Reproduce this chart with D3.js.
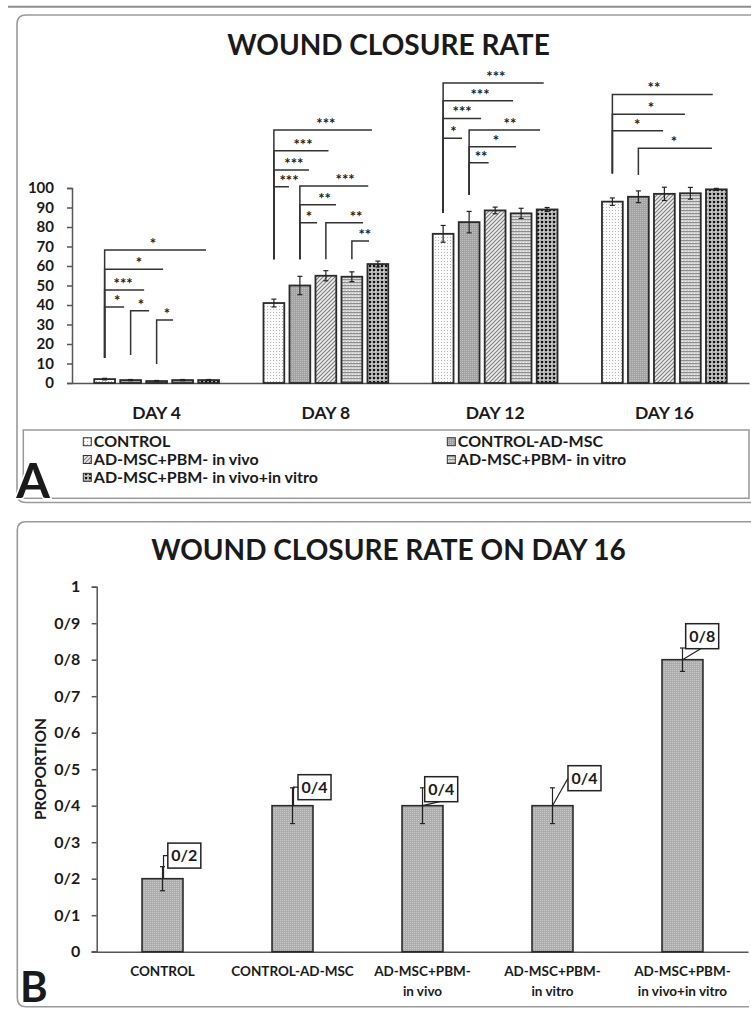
<!DOCTYPE html>
<html><head><meta charset="utf-8">
<script src="https://cdn.jsdelivr.net/npm/d3@7"></script>
<style>
body{margin:0;background:#fff}
svg{display:block}
text{font-family:Lato,"Open Sans",sans-serif;font-weight:700;fill:#1a1a1a}
</style>
</head><body>
<svg id="c" width="751" height="1011"></svg>
<script>
// ---------- Panel A data ----------
const days = ["DAY 4", "DAY 8", "DAY 12", "DAY 16"];
const groups = ["CONTROL", "CONTROL-AD-MSC", "AD-MSC+PBM- in vivo", "AD-MSC+PBM- in vitro", "AD-MSC+PBM- in vivo+in vitro"];
const meanControl = [2, 41, 76.5, 93];
const meanAdmsc   = [1.5, 50, 82.5, 95.5];
const meanVivo    = [1, 55, 88.5, 97];
const meanVitro   = [1.5, 54.5, 87, 97.3];
const meanBoth    = [1.5, 61, 89, 99.3];
const errControl = [0.4, 2, 4.3, 1.9];
const errAdmsc   = [0.3, 4.7, 5.5, 3];
const errVivo    = [0.3, 2.6, 1.7, 3.4];
const errVitro   = [0.3, 2.5, 2.6, 3];
const errBoth    = [0.3, 1.5, 1, 0.5];
const yTicksA = [0, 10, 20, 30, 40, 50, 60, 70, 80, 90, 100];
// significance brackets: [day, fromBar, stemBottom, level, endBar, labelBar, stars]
const brackets = [
  [0, 0, 12.8, 68.2, 3.9, 1.86, "*"],
  [0, 0, 12.8, 58.3, 2.25, 1.32, "*"],
  [0, 0, 12.8, 47.7, 1.52, 0.71, "***"],
  [0, 0, 12.8, 39, 0.75, 0.48, "*"],
  [0, 1, 14.4, 37.1, 1.71, 1.4, "*"],
  [0, 2, 9.7, 32.3, 2.63, 2.4, "*"],
  [1, 0, 63.4, 129.7, 3.77, 2.0, "***"],
  [1, 0, 63.4, 119.1, 2.1, 1.12, "***"],
  [1, 0, 63.4, 109.2, 1.35, 0.77, "***"],
  [1, 0, 63.4, 100.7, 0.58, 0.58, "***"],
  [1, 1, 63.4, 101, 3.63, 2.74, "***"],
  [1, 1, 63.4, 91.4, 2.39, 1.95, "**"],
  [1, 1, 63.4, 82.2, 1.66, 1.35, "*"],
  [1, 2, 63.4, 82.2, 3.43, 3.16, "**"],
  [1, 3, 63.4, 72.8, 3.66, 3.5, "**"],
  [2, 0, 87.2, 153.8, 3.87, 2.03, "***"],
  [2, 0, 87.2, 144.8, 2.69, 1.42, "***"],
  [2, 0, 87.2, 135.7, 1.46, 0.73, "***"],
  [2, 0, 87.2, 125.5, 0.73, 0.4, "*"],
  [2, 1, 96.4, 129.7, 3.73, 2.57, "**"],
  [2, 1, 96.4, 121.2, 2.8, 2.03, "*"],
  [2, 1, 96.4, 113, 1.75, 1.46, "**"],
  [3, 0, 107.5, 148, 3.86, 1.6, "**"],
  [3, 0, 107.5, 137.8, 2.79, 1.48, "*"],
  [3, 0, 107.5, 129.3, 1.95, 0.95, "*"],
  [3, 1, 106.7, 120.4, 3.83, 2.37, "*"]
];

// ---------- Panel B data ----------
const bCategories = [["CONTROL"], ["CONTROL-AD-MSC"], ["AD-MSC+PBM-", "in vivo"], ["AD-MSC+PBM-", "in vitro"], ["AD-MSC+PBM-", "in vivo+in vitro"]];
const bValues = [0.2, 0.4, 0.4, 0.4, 0.8];
const bErrors = [0.033, 0.049, 0.049, 0.049, 0.032];
const bLabels = ["0/2", "0/4", "0/4", "0/4", "0/8"];
const bTickValues = [0, 0.1, 0.2, 0.3, 0.4, 0.5, 0.6, 0.7, 0.8, 0.9, 1];
const bTickLabels = ["0", "0/1", "0/2", "0/3", "0/4", "0/5", "0/6", "0/7", "0/8", "0/9", "1"];

// ---------- drawing ----------
const svg = d3.select("#c");
const defs = svg.append("defs");
function pat(id, w, h, build) {
  const p = defs.append("pattern").attr("id", id).attr("patternUnits", "userSpaceOnUse").attr("width", w).attr("height", h);
  build(p);
}
pat("pControl", 3, 3, p => {
  p.append("rect").attr("width", 3).attr("height", 3).attr("fill", "#fafafa");
  p.append("rect").attr("width", 1).attr("height", 1).attr("fill", "#b4b4b4");
});
pat("pAdmsc", 2, 2, p => {
  p.append("rect").attr("width", 2).attr("height", 2).attr("fill", "#a2a2a2");
  p.append("rect").attr("width", 1).attr("height", 1).attr("fill", "#c2c2c2");
});
pat("pVivo", 4, 4, p => {
  p.append("rect").attr("width", 4).attr("height", 4).attr("fill", "#eeeeee");
  p.append("path").attr("d", "M-1,1 L1,-1 M0,4 L4,0 M3,5 L5,3").attr("stroke", "#808080").attr("stroke-width", 1.2);
});
pat("pVitro", 3, 3, p => {
  p.append("rect").attr("width", 3).attr("height", 3).attr("fill", "#cfcfcf");
  p.append("rect").attr("width", 3).attr("height", 1).attr("fill", "#8e8e8e");
  p.append("rect").attr("x", 1).attr("y", 2).attr("width", 1).attr("height", 1).attr("fill", "#f0f0f0");
});
pat("pBoth", 4, 4, p => {
  p.append("rect").attr("width", 4).attr("height", 4).attr("fill", "#ffffff");
  p.append("path").attr("d", "M0,0.3 H4 M0.3,0 V4").attr("stroke", "#8a8a8a").attr("stroke-width", 0.6);
  p.append("rect").attr("x", 0.9).attr("y", 0.9).attr("width", 2.5).attr("height", 2.5).attr("fill", "#111");
});
pat("pB", 2, 2, p => {
  p.append("rect").attr("width", 2).attr("height", 2).attr("fill", "#acacac");
  p.append("rect").attr("width", 1).attr("height", 1).attr("fill", "#cbcbcb");
});
const fills = ["url(#pControl)", "url(#pAdmsc)", "url(#pVivo)", "url(#pVitro)", "url(#pBoth)"];

// top rule
svg.append("line").attr("x1", 8).attr("x2", 751).attr("y1", 6.7).attr("y2", 6.7).attr("stroke", "#8c8c8c").attr("stroke-width", 2);

// frames
svg.append("path").attr("d", "M760,15 H26 Q17,15 17,24 V494 Q17,502.5 26,502.5 H760")
  .attr("fill", "none").attr("stroke", "#9a9a9a").attr("stroke-width", 1.6);
svg.append("path").attr("d", "M760,521.7 H26 Q17.3,521.7 17.3,530 V998 Q17.3,1006.7 26,1006.7 H749")
  .attr("fill", "none").attr("stroke", "#9a9a9a").attr("stroke-width", 1.6);

// ===== Panel A =====
const gA = svg.append("g");
gA.append("text").attr("x", 388.5).attr("y", 55).attr("text-anchor", "middle").attr("font-size", 28).text("WOUND CLOSURE RATE");

const x0 = d3.scaleBand().domain(days).range([72, 749]).paddingInner(0.232).paddingOuter(0.116);
const x1 = d3.scaleBand().domain(d3.range(groups.length)).range([0, x0.bandwidth()]).paddingInner(0.2).paddingOuter(0.1);
const yA = d3.scaleLinear().domain([0, 100]).range([383, 188]);
const barCenter = (d, f) => x0(days[d]) + x1(0) + x1.bandwidth() / 2 + f * x1.step();

const means = [meanControl, meanAdmsc, meanVivo, meanVitro, meanBoth];
const errs = [errControl, errAdmsc, errVivo, errVitro, errBoth];

// axes
const yAxA = gA.append("g").attr("transform", "translate(72,0)")
  .call(d3.axisLeft(yA).tickValues(yTicksA).tickSize(5).tickPadding(13).tickFormat(d3.format("d")));
yAxA.select(".domain").attr("stroke", "#555").attr("stroke-width", 1.5);
yAxA.selectAll(".tick line").attr("stroke", "#555").attr("stroke-width", 1.5);
yAxA.selectAll(".tick text").attr("font-size", 15).attr("font-family", "Lato").attr("font-weight", 700).attr("fill", "#1a1a1a");

const xAxA = gA.append("g").attr("transform", "translate(0,383)")
  .call(d3.axisBottom(x0).tickSize(0).tickSizeOuter(0));
xAxA.select(".domain").attr("stroke", "#555").attr("stroke-width", 1.5);
xAxA.selectAll(".tick text").attr("font-size", 17.5).attr("font-family", "Lato").attr("font-weight", 700)
  .attr("fill", "#1a1a1a").attr("y", 36).attr("dy", 0);

// bars
const gBars = gA.append("g");
days.forEach((day, d) => {
  groups.forEach((grp, i) => {
    const v = means[i][d], e = errs[i][d];
    const bx = x0(day) + x1(i);
    gBars.append("rect").attr("x", bx).attr("y", yA(v)).attr("width", x1.bandwidth()).attr("height", yA(0) - yA(v))
      .attr("fill", fills[i]).attr("stroke", "#2a2a2a").attr("stroke-width", 1.8);
    const cx = bx + x1.bandwidth() / 2;
    const eb = gBars.append("g").attr("stroke", "#222").attr("stroke-width", 1.2);
    eb.append("line").attr("x1", cx).attr("x2", cx).attr("y1", yA(v + e)).attr("y2", yA(v - e));
    eb.append("line").attr("x1", cx - 2.5).attr("x2", cx + 2.5).attr("y1", yA(v + e)).attr("y2", yA(v + e));
    eb.append("line").attr("x1", cx - 2.5).attr("x2", cx + 2.5).attr("y1", yA(v - e)).attr("y2", yA(v - e));
  });
});

// brackets
const gBr = gA.append("g");
const gStars = gA.append("g").attr("opacity", 0.99);
brackets.forEach(([d, from, bottom, level, end, lab, stars]) => {
  const xs = barCenter(d, from);
  gBr.append("path").attr("d", `M${xs},${yA(bottom)} V${yA(level)} H${barCenter(d, end)}`)
    .attr("fill", "none").attr("stroke", "#333").attr("stroke-width", 1.5);
  gStars.append("text").attr("x", barCenter(d, lab)).attr("y", yA(level) - 1).attr("text-anchor", "middle")
    .attr("font-family", "DejaVu Sans").attr("font-size", 15).attr("fill", "#333").text(stars);
});

// legend
const gL = svg.append("g");
gL.append("rect").attr("x", 23.3).attr("y", 430).attr("width", 725.7).attr("height", 68.3)
  .attr("fill", "#fff").attr("stroke", "#999").attr("stroke-width", 1.5);
const legCol = [83.3, 447.3];
const legRow = [441.7, 459.5, 477.3];
groups.forEach((g, i) => {
  const cx = legCol[i % 2], cy = legRow[Math.floor(i / 2)];
  gL.append("rect").attr("x", cx).attr("y", cy - 4).attr("width", 8).attr("height", 8)
    .attr("fill", fills[i]).attr("stroke", "#333").attr("stroke-width", 1);
  gL.append("text").attr("x", cx + 10.5).attr("y", cy + 5.5).attr("font-size", 16).text(g);
});
svg.append("text").attr("x", 16.2).attr("y", 498.3).attr("font-size", 48.5).attr("fill", "#000")
  .attr("stroke", "#fff").attr("stroke-width", 3).attr("paint-order", "stroke").text("A");

// ===== Panel B =====
const gB = svg.append("g");
gB.append("text").attr("x", 388.5).attr("y", 560).attr("text-anchor", "middle").attr("font-size", 28).text("WOUND CLOSURE RATE ON DAY 16");

const xb = d3.scaleBand().domain(d3.range(bValues.length)).range([97, 748]).paddingInner(0.685).paddingOuter(0.3465);
const yb = d3.scaleLinear().domain([0, 1]).range([951.7, 586.7]);

const yAxB = gB.append("g").attr("transform", "translate(96.7,0)")
  .call(d3.axisLeft(yb).tickValues(bTickValues).tickSize(5).tickPadding(11.5).tickFormat((v, i) => bTickLabels[i]));
yAxB.select(".domain").attr("stroke", "#555").attr("stroke-width", 1.5);
yAxB.selectAll(".tick line").attr("stroke", "#555").attr("stroke-width", 1.5);
yAxB.selectAll(".tick text").attr("font-size", 16).attr("font-family", "Lato").attr("font-weight", 700).attr("fill", "#1a1a1a");

const xAxB = gB.append("g").attr("transform", "translate(0,951.7)")
  .call(d3.axisBottom(xb).tickSize(0).tickSizeOuter(0).tickFormat(() => ""));
xAxB.select(".domain").attr("stroke", "#555").attr("stroke-width", 1.5);
gB.append("line").attr("x1", 91.7).attr("x2", 97).attr("y1", 951.7).attr("y2", 951.7).attr("stroke", "#555").attr("stroke-width", 1.5);

bCategories.forEach((lines, i) => {
  const t = gB.append("text").attr("x", xb(i) + xb.bandwidth() / 2).attr("y", 975.5).attr("text-anchor", "middle")
    .attr("font-size", 13.5).attr("fill", "#2a2a2a");
  lines.forEach((ln, k) => t.append("tspan").attr("x", xb(i) + xb.bandwidth() / 2).attr("dy", k === 0 ? 0 : 20).text(ln));
});

gB.append("text").attr("transform", "translate(45.5,769) rotate(-90)").attr("text-anchor", "middle")
  .attr("font-size", 15.5).text("PROPORTION");

const labelLayout = [
  { dx: 5.3, dy: -35.6, kind: "elbow" },
  { dx: 5.5, dy: -31, kind: "elbow" },
  { dx: 2.2, dy: -29, kind: "bottom" },
  { dx: 15.5, dy: -40, kind: "left" },
  { dx: 3.2, dy: -36, kind: "bottom" }
];
const boxW = 33, boxH = 25;
bValues.forEach((v, i) => {
  const bx = xb(i), cx = bx + xb.bandwidth() / 2, ty = yb(v);
  gB.append("rect").attr("x", bx).attr("y", ty).attr("width", xb.bandwidth()).attr("height", yb(0) - ty)
    .attr("fill", "url(#pB)").attr("stroke", "#2a2a2a").attr("stroke-width", 1.6);
  const e = bErrors[i];
  const eb = gB.append("g").attr("stroke", "#222").attr("stroke-width", 1.2);
  eb.append("line").attr("x1", cx).attr("x2", cx).attr("y1", yb(v + e)).attr("y2", yb(v - e));
  eb.append("line").attr("x1", cx - 2.5).attr("x2", cx + 2.5).attr("y1", yb(v + e)).attr("y2", yb(v + e));
  eb.append("line").attr("x1", cx - 2.5).attr("x2", cx + 2.5).attr("y1", yb(v - e)).attr("y2", yb(v - e));

  const L = labelLayout[i];
  const lx = cx + L.dx, ly = ty + L.dy, mid = ly + boxH / 2;
  let d;
  if (L.kind === "elbow") d = `M${cx + 1},${ty} V${mid} H${lx}`;
  else if (L.kind === "left") d = `M${cx},${ty} L${lx},${mid}`;
  else d = `M${cx},${ty} L${lx + 15},${ly + boxH}`;
  gB.append("path").attr("d", d).attr("fill", "none").attr("stroke", "#222").attr("stroke-width", 1.2);
  gB.append("rect").attr("x", lx).attr("y", ly).attr("width", boxW).attr("height", boxH)
    .attr("fill", "#fff").attr("stroke", "#222").attr("stroke-width", 1.5);
  gB.append("text").attr("x", lx + boxW / 2).attr("y", ly + boxH / 2 + 5.8).attr("text-anchor", "middle")
    .attr("font-size", 16).text(bLabels[i]);
});

svg.append("text").attr("x", 20).attr("y", 1002).attr("font-size", 42).attr("fill", "#000")
  .attr("stroke", "#fff").attr("stroke-width", 3).attr("paint-order", "stroke").text("B");
</script>
</body></html>
